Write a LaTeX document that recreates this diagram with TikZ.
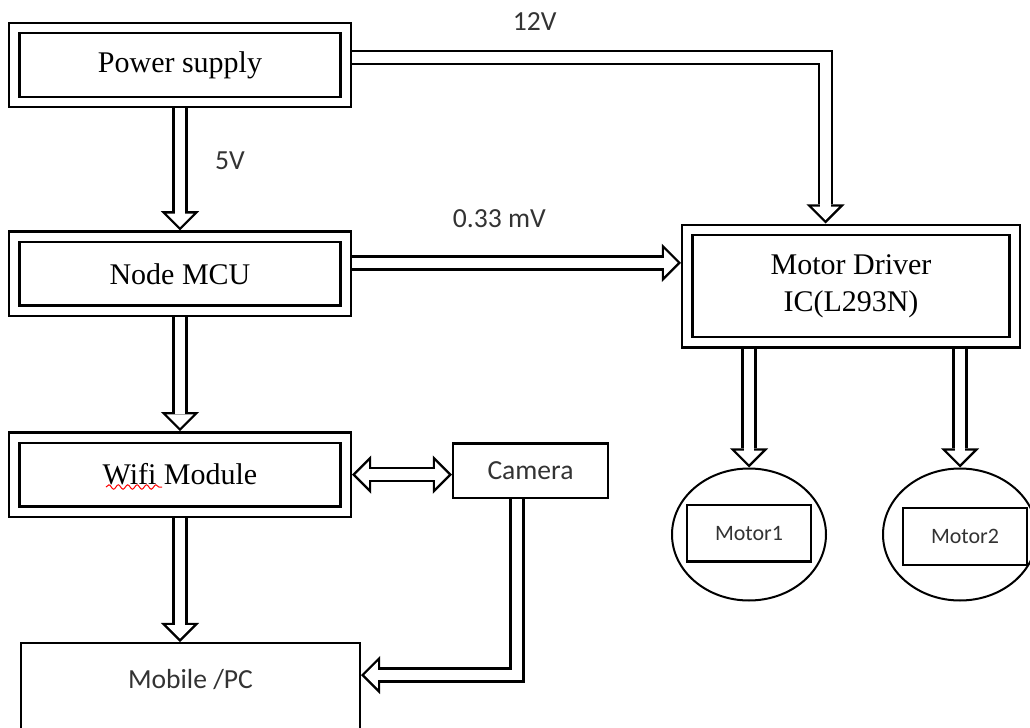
\documentclass[tikz,border=0pt]{standalone}
\usepackage{fontspec}
\setmainfont{Liberation Serif}
\newfontfamily\labelfont{Carlito}
\usepackage{tikz}
\usetikzlibrary{arrows.meta,positioning,shapes.geometric,decorations.pathmorphing}

\begin{document}
\begin{tikzpicture}[x=0.5pt,y=-0.5pt,line join=miter,
    dbox/.style={draw,double,double distance=4pt,line width=1.2pt,outer sep=3.2pt,
                 minimum width=165.6pt,minimum height=37pt,
                 font=\fontsize{15}{18.5}\selectfont},
    sbox/.style={draw,line width=1.2pt,text=black!80,
                 font=\labelfont\fontsize{13.8}{16}\selectfont},
    motor/.style={ellipse,draw,line width=1pt,minimum width=77pt,minimum height=66pt},
    mbox/.style={draw,line width=1.2pt,minimum width=61.8pt,minimum height=28.3pt,
                 text=black!80,font=\labelfont\fontsize{11}{13}\selectfont},
    lbl/.style={text=black!80,font=\labelfont\fontsize{13.8}{16}\selectfont},
    pipe/.style={line width=7.7pt,-{Triangle[length=9.6pt,width=19.2pt,line width=0pt]},
                 postaction={draw=white,line width=5.3pt,shorten >=1.7pt,
                   -{Triangle[length=6.7pt,width=13.4pt,line width=0pt]}}},
    bipipe/.style={line width=7.7pt,
                 {Triangle[length=9.6pt,width=19.2pt,line width=0pt]}-{Triangle[length=9.6pt,width=19.2pt,line width=0pt]},
                 postaction={draw=white,line width=5.3pt,shorten >=1.7pt,shorten <=1.7pt,
                   {Triangle[length=6.7pt,width=13.4pt,line width=0pt]}-{Triangle[length=6.7pt,width=13.4pt,line width=0pt]}}}]
  \useasboundingbox (0,0) rectangle (1030,728);
  \clip (0,0) rectangle (1030,728);
%  \draw[help lines] (0,0) grid[step=50] (1030,728);

  \node[dbox]          (ps)   at (180,65)                             {Power supply};
  \node[dbox]          (mcu)  [below=61pt of ps]                      {Node MCU};
  \node[dbox]          (wifi) [below=57pt of mcu]                     {Wifi Module};
  \node[sbox,minimum width=77.3pt,minimum height=27.3pt]
                       (cam)  [right=50pt of wifi,yshift=2pt]         {Camera};
  \node[sbox,minimum width=169.3pt,inner ysep=0pt,text height=22.75pt,text depth=80pt]
                       (mob)  [below=62pt of wifi,xshift=5.25pt]      {Mobile /PC};
  \node[dbox,minimum width=163.6pt,minimum height=56.1pt,align=center]
                       (drv)  [right=164.5pt of mcu,yshift=-6.1pt]    {Motor Driver\\IC(L293N)};
  \node[motor]         (m1)   [below=59.5pt of drv,xshift=-51pt]      {};
  \node[motor]         (m2)   [below=59.5pt of drv,xshift=54.5pt]     {};
  \node[mbox]          (m1b)  at ([yshift=0.75pt]m1.center)           {Motor1};
  \node[mbox]          (m2b)  at ([xshift=2.5pt,yshift=-1pt]m2.center) {Motor2};

  % spell-check mark under Wifi
  \draw[red,line width=0.5pt,decorate,decoration={snake,amplitude=1.1pt,segment length=4.7pt}]
    ([xshift=-37pt,yshift=-6.2pt]wifi.center) -- ([xshift=-9pt,yshift=-6.2pt]wifi.center);

  \draw[pipe] (ps.south) -- node[lbl,pos=0.43,xshift=25pt] {5V} (ps.south |- mcu.north);
  \draw[pipe] ([yshift=3.9pt]ps.east) -| node[lbl,pos=0.193,yshift=17.8pt] {12V} ([xshift=-12.75pt]drv.north);
  \draw[pipe] ([yshift=5.5pt]mcu.east) -- node[lbl,pos=0.448,yshift=21.9pt] {0.33 mV} ([yshift=5.5pt]mcu.east -| drv.west);
  \draw[pipe] (mcu.south) -- (mcu.south |- wifi.north);
  \draw[bipipe] (wifi.east) -- (wifi.east -| cam.west);
  \draw[pipe] (wifi.south) -- (wifi.south |- mob.north);
  \draw[pipe] ([xshift=-6.75pt]cam.south) |- ([yshift=-16.5pt]mob.north east);
  \draw[pipe] (drv.south -| m1.north) -- (m1.north);
  \draw[pipe] (drv.south -| m2.north) -- (m2.north);

\end{tikzpicture}
\end{document}
